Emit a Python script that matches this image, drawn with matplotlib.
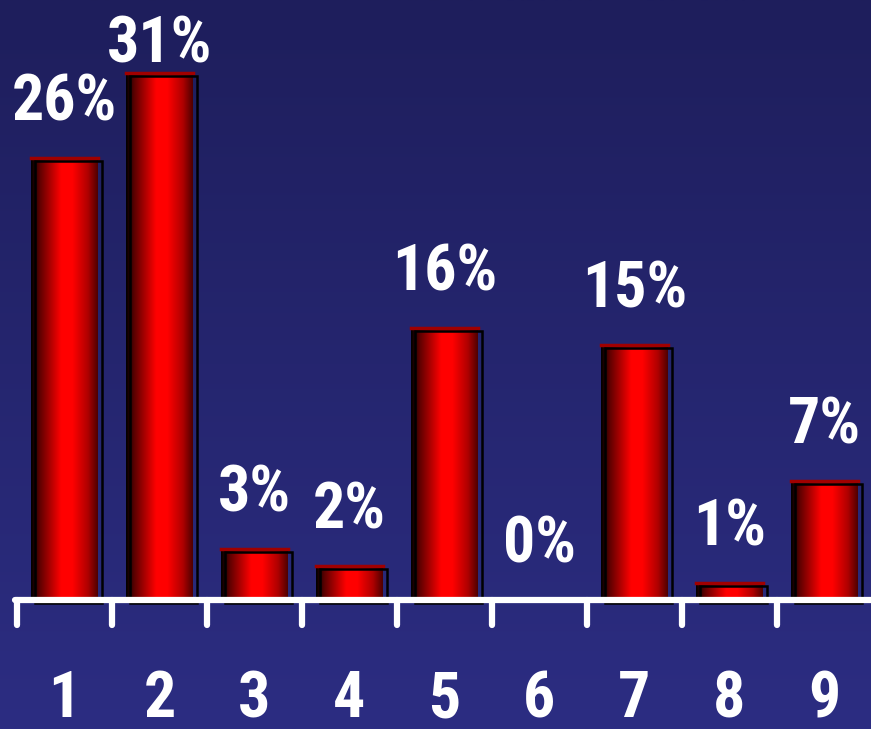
import numpy as np
import matplotlib
matplotlib.use("Agg")
import matplotlib.pyplot as plt
import matplotlib.colors as mcolors
import matplotlib.transforms as mtransforms
from matplotlib import font_manager

# ========================
# data
# ========================
categories = ["1", "2", "3", "4", "5", "6", "7", "8", "9"]
values = [26, 31, 3, 2, 16, 0, 15, 1, 7]
labels = [f"{v}%" for v in values]

# ========================
# style
# ========================
names = {f.name for f in font_manager.fontManager.ttflist}
FONT = next((n for n in ["Liberation Sans Narrow", "Arial Narrow", "Roboto Condensed",
                         "Liberation Sans", "DejaVu Sans"] if n in names), "DejaVu Sans")

bg_cmap = mcolors.LinearSegmentedColormap.from_list("bg", ["#1e1e5c", "#2c2d82"])
bar_cmap = mcolors.LinearSegmentedColormap.from_list(
    "cyl",
    [(0.0, "#000000"), (0.12, "#5a0000"), (0.45, "#ff0000"),
     (0.62, "#ff0000"), (0.85, "#b00000"), (1.0, "#500000")],
)
BAR_W = 0.70
YMAX = 35.29
LABEL_GAP = 2.2      # gap between bar top and label baseline (data units)
LABEL_TOP = 31.6     # highest allowed label baseline

fig = plt.figure(figsize=(8.71, 7.29), dpi=100)
ax = fig.add_axes([0, 0, 1, 1])
ax.set_xlim(-0.179, 8.99)
ax.set_ylim(-7.59, YMAX)
ax.axis("off")

# background gradient (dark at top)
grad = np.linspace(0, 1, 256).reshape(-1, 1)
ax.imshow(grad, cmap=bg_cmap, extent=[0, 1, 0, 1], transform=ax.transAxes,
          aspect="auto", zorder=0)

# bars
xs = np.arange(len(categories)) + 0.5
shade = np.linspace(0, 1, 200).reshape(1, -1)
shadow = mtransforms.offset_copy(ax.transData, fig=fig, x=4, y=-3, units="dots")
for x, v, lab in zip(xs, values, labels):
    if v > 0:
        x0 = x - BAR_W / 2
        ax.imshow(shade, cmap=bar_cmap, extent=[x0, x0 + BAR_W, 0, v],
                  aspect="auto", zorder=2)
        ax.plot([x0, x0 + BAR_W], [v, v], color="#a00000", lw=2.5, zorder=3)
        ax.add_patch(plt.Rectangle((x0, 0), BAR_W, v, fill=False, ec="black",
                                   lw=1.8, transform=shadow, zorder=3))
    ax.text(x, min(v + LABEL_GAP, LABEL_TOP), lab, ha="center", va="baseline",
            color="white", fontsize=46, fontweight="bold", family=FONT, zorder=5)

# axis line and ticks
ax.plot([-0.02, 9.2], [0, 0], color="white", lw=4.5, solid_capstyle="round", zorder=4)
for t in range(len(categories)):
    ax.plot([t, t], [0, -1.45], color="white", lw=4.5, solid_capstyle="round", zorder=4)

for x, c in zip(xs, categories):
    ax.text(x, -6.9, c, ha="center", va="baseline", color="white", fontsize=46,
            fontweight="bold", family=FONT)

fig.savefig("out.png", dpi=100)
